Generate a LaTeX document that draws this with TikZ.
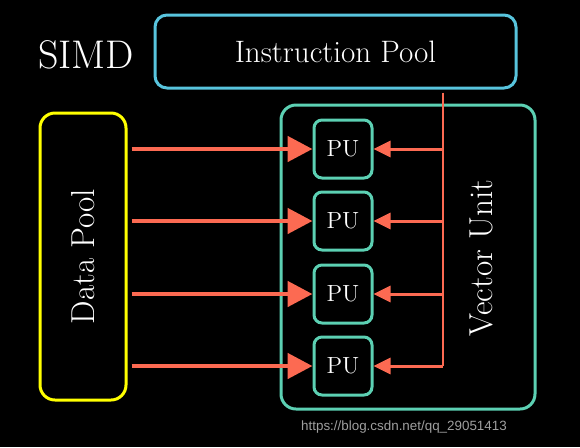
\documentclass[tikz,border=0pt]{standalone}
\usepackage{fontspec}
\usepackage{graphicx}
\usepackage{tikz}
\usetikzlibrary{positioning,arrows.meta,calc}
\newfontfamily\wmfont{Liberation Sans}
\definecolor{ipoolc}{HTML}{58C4DD}
\definecolor{vunitc}{HTML}{5CD0B3}
\definecolor{dpoolc}{HTML}{FFFF00}
\definecolor{flowc}{HTML}{FC6A52}
\tikzset{
  box/.style    ={rectangle, draw, line width=1.5pt, text=white, inner sep=0pt},
  pool/.style   ={box, draw=ipoolc, rounded corners=6pt},
  pu/.style     ={box, draw=vunitc, rounded corners=4pt, minimum size=29pt,
                  font=\fontsize{11.7}{14}\selectfont},
  % thick arrows carrying data into the units
  dataflow/.style={draw=flowc, line width=2.4pt,
                  -{Triangle[length=12.5pt,width=12.5pt]}, shorten <=2pt},
  % thinner arrows carrying the instruction from the bus
  ctrlflow/.style={draw=flowc, line width=1.5pt,
                  -{Triangle[length=8.5pt,width=8pt]}},
  busline/.style={draw=flowc, line width=1.4pt},
  lab/.style    ={text=white, inner sep=0pt},
}
\begin{document}
\begin{tikzpicture}[x=0.5pt,y=-0.5pt]
\fill[black] (0,0) rectangle (580,447);
\useasboundingbox (0,0) rectangle (580,447);
\node[lab,font=\fontsize{20}{24}\selectfont] (simd) at (86,55) {SIMD};
\node[pool,minimum width=180.5pt,minimum height=36.5pt,
      font=\fontsize{15.5}{18}\selectfont] (ipool) at (335.5,51.5) {Instruction Pool};
\node[box,draw=dpoolc,rounded corners=7.5pt,minimum width=43pt,minimum height=143.5pt,
      font=\fontsize{16.6}{19}\selectfont] (dpool) at (83,256.5) {\rotatebox{90}{Data Pool}};
\node[box,draw=vunitc,rounded corners=7.5pt,minimum width=127pt,minimum height=152pt]
      (vunit) at (408,257) {};
\node[lab,rotate=90,font=\fontsize{16.6}{19}\selectfont] (vlab) at (481,258) {Vector Unit};
\foreach \i/\y in {1/149, 2/221, 3/294, 4/366}
  {\node[pu] (pu\i) at (343,\y) {PU};}
\coordinate (bus) at (443,366);
\draw[busline,shorten <=1.5pt] (ipool.south -| bus) -- (bus);
\foreach \i in {1,...,4}
  {\draw[dataflow] (dpool.east |- pu\i) -- (pu\i.west);
   \draw[ctrlflow] (pu\i.east -| bus) -- (pu\i.east);}
\node[text=gray!75,font=\wmfont\fontsize{6.7}{8}\selectfont,inner sep=0pt] (wm)
   at (404,427.5) {https://blog.csdn.net/qq\_29051413};
\end{tikzpicture}
\end{document}
